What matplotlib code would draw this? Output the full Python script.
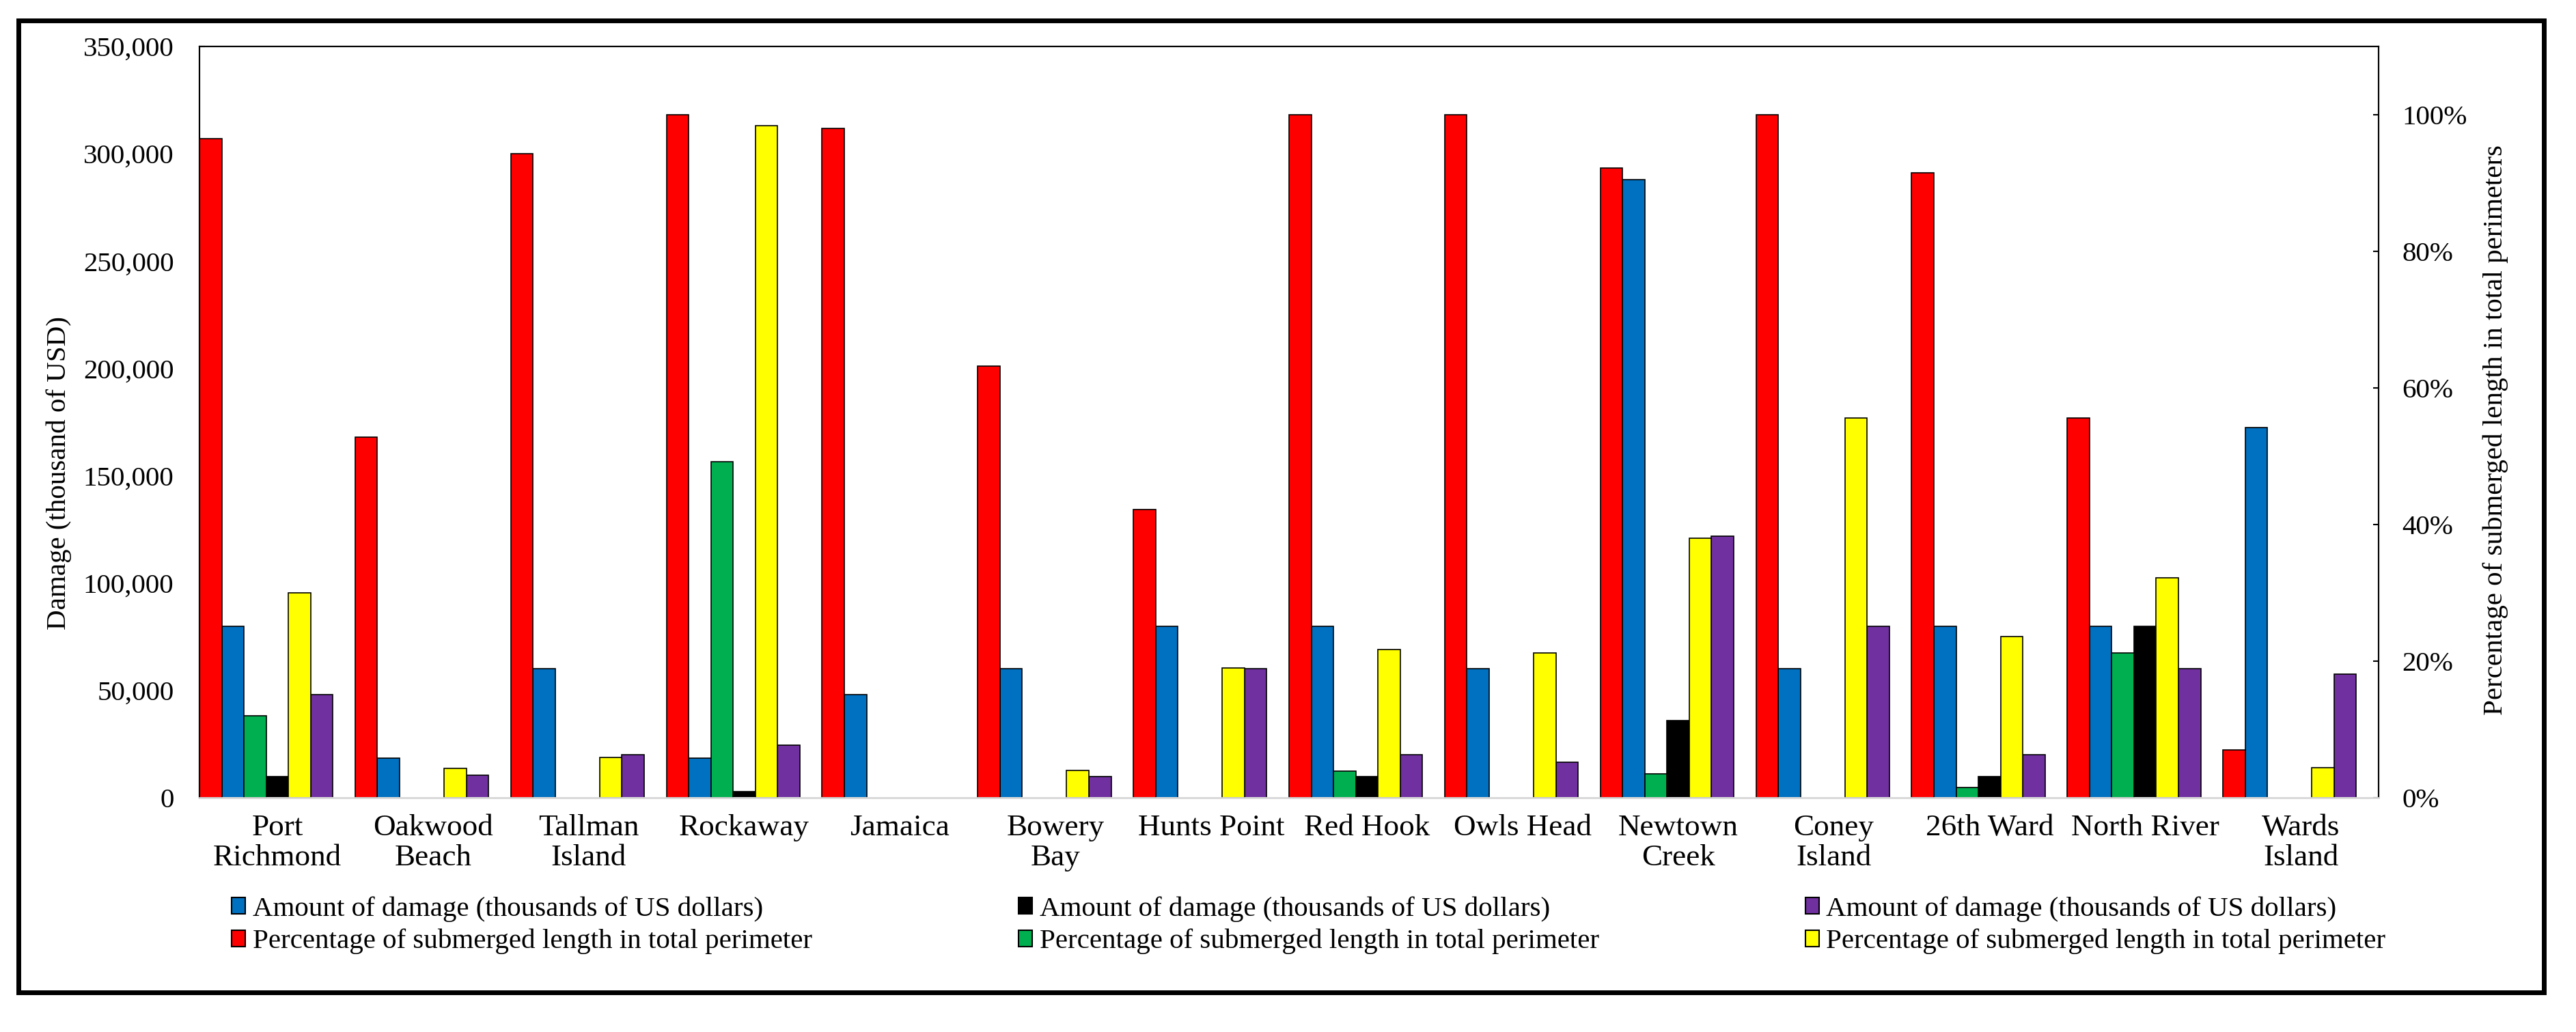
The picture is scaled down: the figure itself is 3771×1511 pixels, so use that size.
import numpy as np
import matplotlib
matplotlib.use("Agg")
import matplotlib.pyplot as plt
from matplotlib.patches import Rectangle, Patch
from matplotlib.ticker import FuncFormatter

plt.rcParams['font.family'] = ['Liberation Serif', 'DejaVu Serif']

# Data
plants = ['Port\nRichmond', 'Oakwood\nBeach', 'Tallman\nIsland', 'Rockaway', 'Jamaica',
          'Bowery\nBay', 'Hunts Point', 'Red Hook', 'Owls Head', 'Newtown\nCreek',
          'Coney\nIsland', '26th Ward', 'North River', 'Wards\nIsland']

nan = np.nan
# percentage of submerged length in total perimeter (right axis)
pct_red = [0.965, 0.528, 0.943, 1.00, 0.98, 0.632, 0.422, 1.00, 1.00, 0.922, 1.00, 0.915, 0.556, 0.070]
pct_green = [0.12, nan, nan, 0.492, nan, nan, nan, 0.039, nan, 0.035, nan, 0.015, 0.212, nan]
pct_yellow = [0.30, 0.043, 0.059, 0.984, nan, 0.040, 0.19, 0.217, 0.212, 0.38, 0.556, 0.236, 0.322, 0.044]
# amount of damage, thousands of USD (left axis)
dmg_blue = [80000, 18500, 60000, 18500, 48000, 60000, 80000, 80000, 60000, 288000, 60000, 80000, 80000, 172500]
dmg_black = [10000, nan, nan, 3000, nan, nan, nan, 10000, nan, 36000, nan, 10000, 80000, nan]
dmg_purple = [48000, 10500, 20000, 24500, nan, 10000, 60000, 20000, 16500, 122000, 80000, 20000, 60000, 57500]

lbl_dmg = 'Amount of damage (thousands of US dollars)'
lbl_pct = 'Percentage of submerged length in total perimeter'

fig = plt.figure(figsize=(37.71, 15.11), dpi=100)
ax = fig.add_axes([0.07743, 0.22700, 0.84593, 0.72800])
ax2 = ax.twinx()

x = np.arange(len(plants))
w = 1 / 7
ekw = dict(edgecolor='black', linewidth=1.2)

ax2.bar(x - 3 * w, pct_red, w, color='#FF0000', **ekw)
ax.bar(x - 2 * w, dmg_blue, w, color='#0070C0', **ekw)
ax2.bar(x - 1 * w, pct_green, w, color='#00B050', **ekw)
ax.bar(x + 0 * w, dmg_black, w, color='#000000', **ekw)
ax2.bar(x + 1 * w, pct_yellow, w, color='#FFFF00', **ekw)
ax.bar(x + 2 * w, dmg_purple, w, color='#7030A0', **ekw)

ax.set_xlim(-0.5, len(plants) - 0.5)
ax.set_ylim(0, 350000)
ax.set_yticks(np.arange(0, 350001, 50000))
ax.yaxis.set_major_formatter(FuncFormatter(lambda v, p: f'{int(v):,}'))
ax2.set_ylim(0, 1.1)
ax2.set_yticks(np.arange(0, 1.01, 0.2))
ax2.yaxis.set_major_formatter(FuncFormatter(lambda v, p: f'{v * 100:.0f}%'))

ax.set_xticks(x)
ax.set_xticklabels(plants, fontsize=32.5, linespacing=1.15)
ax.tick_params(axis='x', length=0, pad=17)
ax.tick_params(axis='y', direction='in', length=6, width=1.5, labelsize=29.5, pad=27)
ax2.tick_params(axis='y', direction='in', length=6, width=1.5, labelsize=29.5, pad=25)

for a in (ax, ax2):
    for s in ('left', 'right', 'top'):
        a.spines[s].set_linewidth(1.5)
        a.spines[s].set_color('black')
    a.spines['bottom'].set_color('#d9d9d9')
    a.spines['bottom'].set_linewidth(2)

fig.text(0.0228, 0.5414, 'Damage (thousand of USD)', rotation=90,
         ha='center', va='center', fontsize=29.5)
fig.text(0.9687, 0.5837, 'Percentage of submerged length in total perimeters', rotation=90,
         ha='center', va='center', fontsize=29.5)

handles = [Patch(facecolor='#0070C0', edgecolor='black', linewidth=1.5, label=lbl_dmg),
           Patch(facecolor='#FF0000', edgecolor='black', linewidth=1.5, label=lbl_pct),
           Patch(facecolor='#000000', edgecolor='black', linewidth=1.5, label=lbl_dmg),
           Patch(facecolor='#00B050', edgecolor='black', linewidth=1.5, label=lbl_pct),
           Patch(facecolor='#7030A0', edgecolor='black', linewidth=1.5, label=lbl_dmg),
           Patch(facecolor='#FFFF00', edgecolor='black', linewidth=1.5, label=lbl_pct)]
fig.legend(handles=handles, ncol=3, loc='upper left', bbox_to_anchor=(0.0899, 0.1317),
           frameon=False, fontsize=29.5, handlelength=0.5, handleheight=0.5,
           handletextpad=0.25, columnspacing=7.37, labelspacing=0.25,
           borderpad=0, borderaxespad=0)

# outer border of the figure
fig.patches.append(Rectangle((0.00729, 0.03838), 0.98754 - 0.00729, 0.98015 - 0.03838,
                             transform=fig.transFigure, fill=False,
                             edgecolor='black', linewidth=5, zorder=10))

fig.savefig('out.png', dpi=100)
